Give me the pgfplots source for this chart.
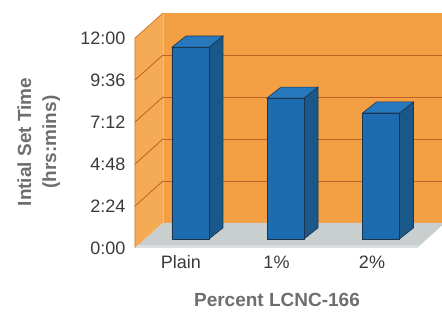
\documentclass[border=0pt]{standalone}
\usepackage{pgfplots}
\pgfplotsset{compat=1.18}
\usepackage{fontspec}
\setmainfont{Liberation Sans}
\definecolor{wallback}{HTML}{F2A043}
\definecolor{wallleft}{HTML}{F5AB55}
\definecolor{wallline}{HTML}{C0602A}
\definecolor{flooring}{HTML}{C9CFCF}
\definecolor{floorfront}{HTML}{DCE0E0}
\definecolor{barfront}{HTML}{1E6CB0}
\definecolor{barside}{HTML}{195889}
\definecolor{bartop}{HTML}{2878BD}
\definecolor{baredge}{HTML}{1A3550}
\definecolor{titlegray}{HTML}{6E6E6E}
\definecolor{tickgray}{HTML}{3A3A3A}
\begin{document}
\begin{tikzpicture}
\useasboundingbox (0,0) rectangle (442pt,312pt);
\begin{axis}[
  at={(135pt,64pt)}, anchor=south west,
  scale only axis, width=307pt, height=235pt,
  xmin=0, xmax=307, ymin=-31, ymax=775,
  clip=false,
  axis line style={draw=none},
  tick style={draw=none},
  ytick={-31,113,257,401,545,689},
  yticklabels={0:00,2:24,4:48,7:12,9:36,12:00},
  xtick={46,141.5,237},
  xticklabels={Plain,1\%,2\%},
  tick label style={font=\fontsize{18}{18}\selectfont, text=tickgray},
  yticklabel style={xshift=-6pt},
  xticklabel style={yshift=-4pt},
  xlabel={Percent LCNC-166},
  xlabel style={at={(axis description cs:0.4625,-0.222)}, anchor=center,
    font=\bfseries\fontsize{19}{19}\selectfont, text=titlegray},
  ylabel={Intial Set Time\\(hrs:mins)},
  ylabel style={at={(axis description cs:-0.314,0.451)}, anchor=center, rotate=0,
    align=center, font=\bfseries\fontsize{19}{25}\selectfont, text=titlegray},
]
% back wall
\fill[wallback] (axis cs:28,55) -- (axis cs:307,55) -- (axis cs:307,775) -- (axis cs:28,775) -- cycle;
% left wall
\fill[wallleft] (axis cs:0,-31) -- (axis cs:28,55) -- (axis cs:28,775) -- (axis cs:0,689) -- cycle;
\draw[wallline!70!wallleft, line width=0.8pt] (axis cs:0,-31) -- (axis cs:0,689) -- (axis cs:28,775);
\draw[wallleft!80!white, line width=0.8pt] (axis cs:28,55) -- (axis cs:28,775);
% gridlines
\draw[wallline, line width=0.8pt] (axis cs:28,199) -- (axis cs:307,199);
\draw[wallline, line width=0.8pt] (axis cs:28,343) -- (axis cs:307,343);
\draw[wallline, line width=0.8pt] (axis cs:28,487) -- (axis cs:307,487);
\draw[wallline, line width=0.8pt] (axis cs:28,631) -- (axis cs:307,631);
\draw[wallline, line width=0.8pt] (axis cs:0,113) -- (axis cs:28,199);
\draw[wallline, line width=0.8pt] (axis cs:0,257) -- (axis cs:28,343);
\draw[wallline, line width=0.8pt] (axis cs:0,401) -- (axis cs:28,487);
\draw[wallline, line width=0.8pt] (axis cs:0,545) -- (axis cs:28,631);
% floor
\fill[flooring] (axis cs:0,-31) -- (axis cs:282,-31) -- (axis cs:307,46) -- (axis cs:307,55) -- (axis cs:28,55) -- cycle;
\fill[floorfront] (axis cs:0,-31) -- (axis cs:282,-31) -- (axis cs:285,-22) -- (axis cs:3,-22) -- cycle;
% bars: side faces
\addplot[fill=barside, draw=baredge, line width=0.6pt] coordinates {(74,0) (88,38) (88,696) (74,658)} --cycle;
\addplot[fill=barside, draw=baredge, line width=0.6pt] coordinates {(169,0) (183,38) (183,521) (169,483)} --cycle;
\addplot[fill=barside, draw=baredge, line width=0.6pt] coordinates {(264.5,0) (278.5,38) (278.5,470) (264.5,432)} --cycle;
% bars: top faces
\addplot[fill=bartop, draw=baredge, line width=0.6pt] coordinates {(37,658) (74,658) (88,696) (51,696)} --cycle;
\addplot[fill=bartop, draw=baredge, line width=0.6pt] coordinates {(132,483) (169,483) (183,521) (146,521)} --cycle;
\addplot[fill=bartop, draw=baredge, line width=0.6pt] coordinates {(227.5,432) (264.5,432) (278.5,470) (241.5,470)} --cycle;
% bars: front faces
\addplot[ybar, bar width=37, bar shift=0pt, fill=barfront, draw=baredge, line width=0.6pt]
  coordinates {(55.5,658) (150.5,483) (246,432)};
\end{axis}
\end{tikzpicture}
\end{document}
